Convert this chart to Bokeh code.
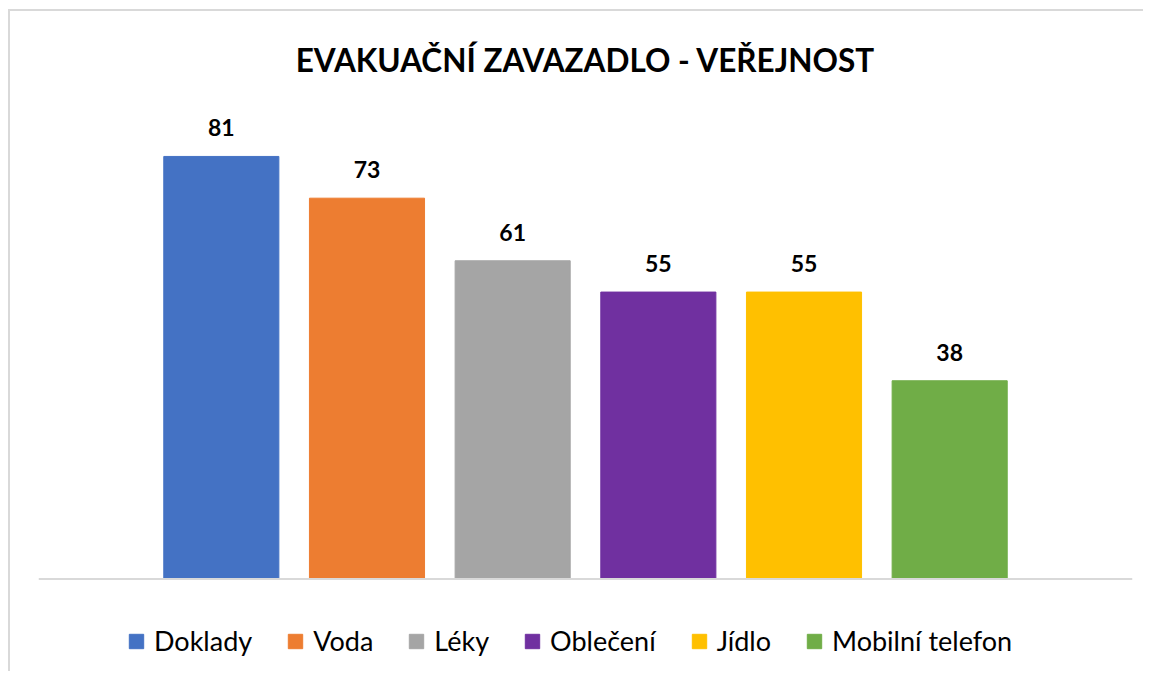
from bokeh.plotting import figure
from bokeh.models import ColumnDataSource, FactorRange, Range1d, LabelSet, Title, Span
from bokeh.core.properties import value
from bokeh.embed import file_html
from bokeh.resources import INLINE

categories = ["Doklady", "Voda", "Léky", "Oblečení", "Jídlo", "Mobilní telefon"]
values = [81, 73, 61, 55, 55, 38]
colors = ["#4472C4", "#ED7D31", "#A5A5A5", "#7030A0", "#FFC000", "#70AD47"]
title_text = "EVAKUAČNÍ ZAVAZADLO - VEŘEJNOST"

FONT = "Lato"

src = ColumnDataSource(dict(cat=categories, val=values, color=colors,
                            lab=[str(v) for v in values]))

p = figure(width=1135, height=662, output_backend="svg", toolbar_location=None,
           x_range=FactorRange(factors=categories, range_padding=0.755,
                               range_padding_units="absolute"),
           y_range=Range1d(-18.12, 90),
           min_border_left=28, min_border_right=13, min_border_top=98,
           min_border_bottom=0)
p.styles = {"margin-left": "8px", "margin-top": "9px",
            "border-left": "2px solid #d9d9d9", "border-top": "2px solid #d9d9d9"}

p.title = Title(text=title_text, align="center", vertical_align="top",
                text_font=FONT, text_font_size="31.5px", text_font_style="bold",
                text_color="#000000", standoff=58)

p.vbar(x="cat", top="val", width=0.79, color="color", source=src,
       legend_field="cat")

p.add_layout(Span(location=0, dimension="width", line_color="#d9d9d9",
                  line_width=2))

labels = LabelSet(x="cat", y="val", text="lab", source=src, y_offset=20,
                  text_align="center", text_baseline="alphabetic",
                  text_font=value(FONT), text_font_size=value("23px"),
                  text_font_style="bold", text_color="#000000")
p.add_layout(labels)

p.xaxis.visible = False
p.yaxis.visible = False
p.xgrid.visible = False
p.ygrid.visible = False
p.outline_line_color = None

leg = p.legend[0]
leg.orientation = "horizontal"
leg.location = (89, 16)
leg.label_text_font = FONT
leg.label_text_font_size = "27px"
leg.label_text_color = "#000000"
leg.glyph_width = 18
leg.glyph_height = 18
leg.label_standoff = 9
leg.spacing = 34
leg.border_line_color = None
leg.background_fill_alpha = 0
leg.padding = 0
leg.margin = 0

open("out.html", "w").write(file_html(p, INLINE))
